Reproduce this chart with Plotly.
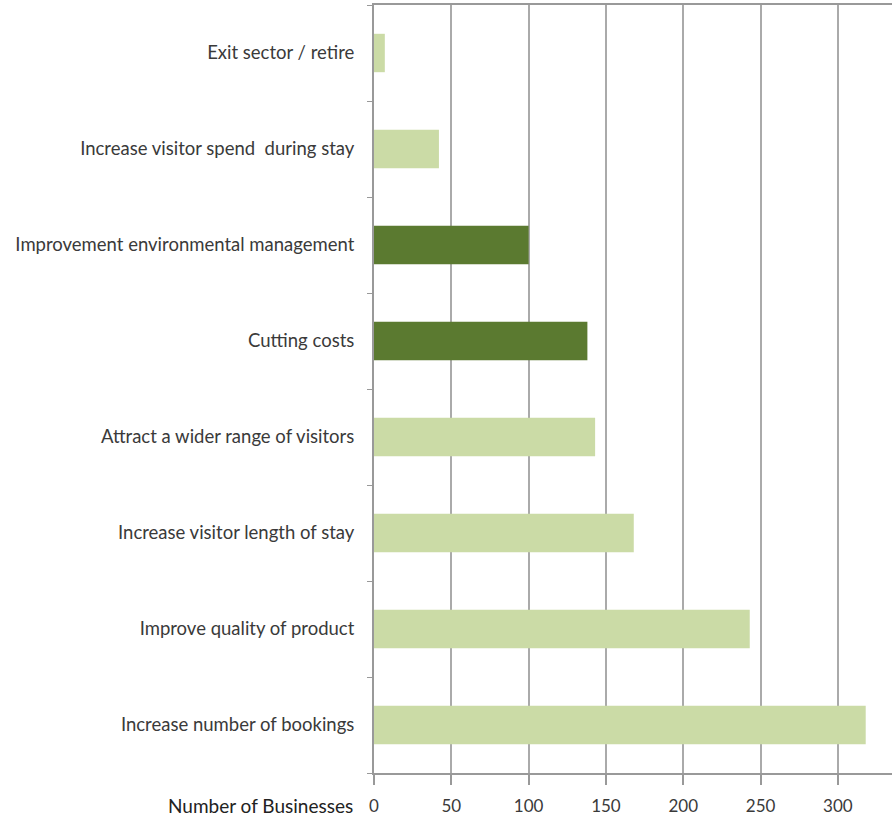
import plotly.graph_objects as go

categories = [
    "Increase number of bookings",
    "Improve quality of product",
    "Increase visitor length of stay",
    "Attract a wider range of visitors",
    "Cutting costs",
    "Improvement environmental management",
    "Increase visitor spend  during stay",
    "Exit sector / retire",
]
values = [318, 243, 168, 143, 138, 100, 42, 7]
highlight = [False, False, False, False, True, True, False, False]

LIGHT = "#cbdba6"
DARK = "#5b7a30"
colors = [DARK if h else LIGHT for h in highlight]

fig = go.Figure(go.Bar(
    y=categories, x=values, orientation="h",
    marker=dict(color=colors, line=dict(width=0)),
    width=0.4,
))

fig.update_layout(
    width=892, height=819,
    margin=dict(l=374, r=0, t=5, b=46),
    paper_bgcolor="white", plot_bgcolor="white",
    font=dict(family="Lato, Liberation Sans, sans-serif", size=18.5, color="#3a3a3a"),
    showlegend=False,
)
fig.update_xaxes(
    range=[0, 335], tickvals=[0, 50, 100, 150, 200, 250, 300],
    showgrid=True, gridcolor="#aaaaaa", gridwidth=2,
    showline=True, linecolor="#999999", linewidth=2, mirror=True,
    ticks="outside", ticklen=10, tickcolor="#999999", tickwidth=1.5,
    zeroline=False, tickfont=dict(size=17), automargin=False,
    ticklabelstandoff=7,
)
fig.update_yaxes(
    categoryorder="array", categoryarray=categories,
    showline=True, linecolor="#999999", linewidth=2,
    ticks="outside", tickson="boundaries", ticklen=5, tickcolor="#999999",
    showgrid=False, ticklabelstandoff=14, automargin=False,
)
fig.add_annotation(
    text="Number of Businesses", xref="paper", yref="paper",
    x=0, y=0, xanchor="right", yanchor="middle", xshift=-19, yshift=-32,
    showarrow=False, font=dict(size=19, color="#222222", family="Lato, sans-serif"),
)
fig.write_html("out.html", config={"displayModeBar": False},
               post_script="document.body.style.margin='0';")
